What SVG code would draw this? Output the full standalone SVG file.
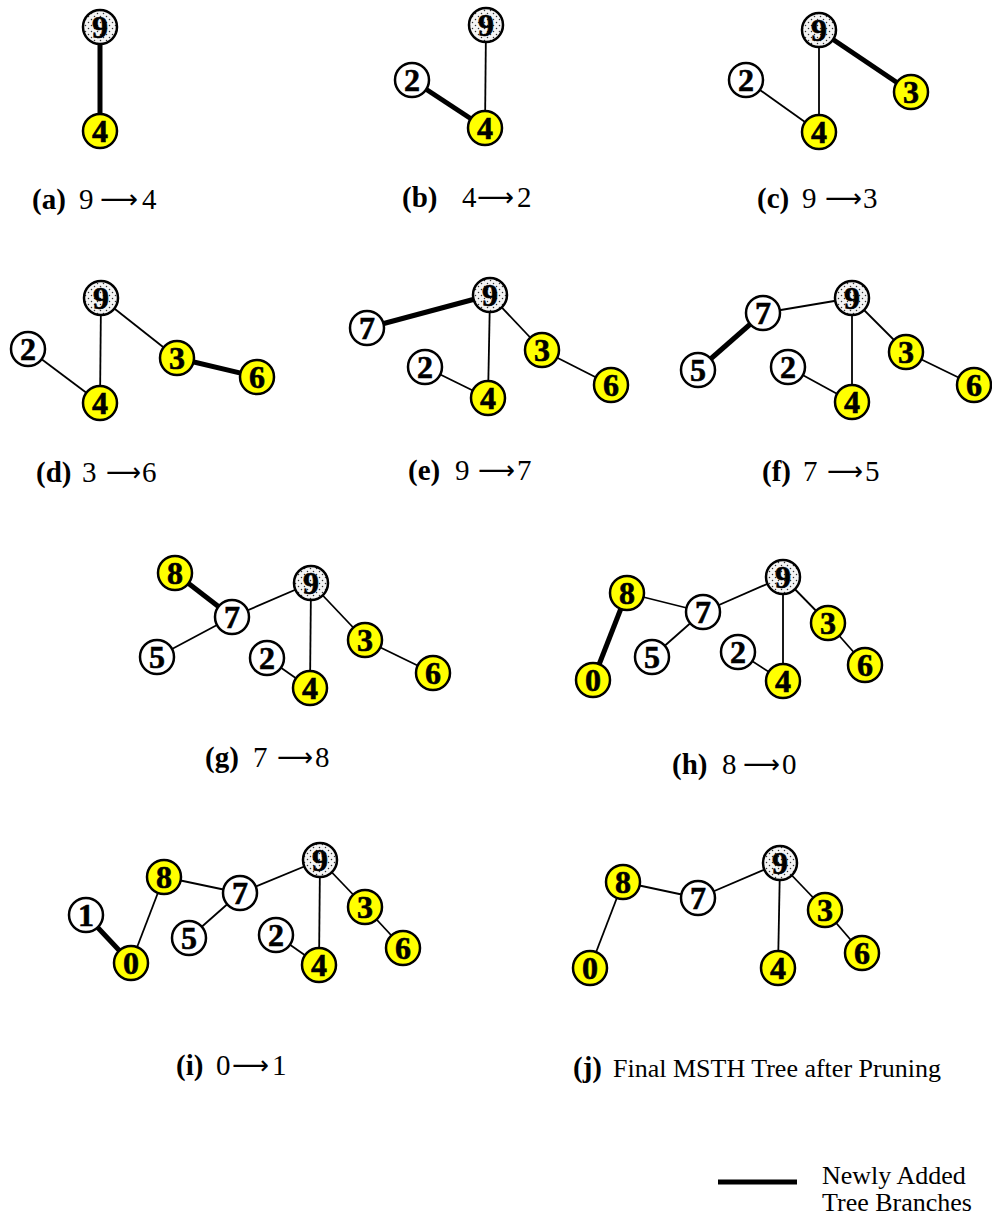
<svg xmlns="http://www.w3.org/2000/svg" width="992" height="1224" viewBox="0 0 992 1224">
<defs>
<pattern id="dots" width="6" height="6" patternUnits="userSpaceOnUse">
<rect width="6" height="6" fill="#f4f4f4"/>
<circle cx="1.5" cy="1.5" r="0.75" fill="#333"/>
<circle cx="4.5" cy="4.5" r="0.75" fill="#333"/>
</pattern>
</defs>
<style>
circle.w{fill:#fff;stroke:#000;stroke-width:2.5}
circle.y{fill:#ffff00;stroke:#000;stroke-width:2.5}
circle.r{fill:url(#dots);stroke:#000;stroke-width:2.5}
text.t{font-family:"Liberation Serif","Times New Roman",serif;font-weight:bold;font-size:32px;text-anchor:middle;fill:#000;stroke:#000;stroke-width:0.6}
line.e{stroke:#000;stroke-width:1.8}
line.E{stroke:#000;stroke-width:5}
text.c{font-family:"Liberation Serif","Times New Roman",serif;font-size:29px;fill:#000}
tspan.b{font-weight:bold}
text.ar{font-family:"DejaVu Sans",sans-serif;font-size:26px;fill:#000}
text.l{font-family:"Liberation Serif","Times New Roman",serif;font-size:26px;fill:#000}
</style>
<rect width="992" height="1224" fill="#fff"/>
<g id="connectors">
<line class="E" x1="100" y1="27" x2="100" y2="131"/>
<line class="e" x1="486" y1="25" x2="485" y2="128"/>
<line class="E" x1="412" y1="80" x2="485" y2="128"/>
<line class="e" x1="819" y1="30" x2="819" y2="132"/>
<line class="e" x1="746" y1="80" x2="819" y2="132"/>
<line class="E" x1="819" y1="30" x2="911" y2="92"/>
<line class="e" x1="101" y1="298" x2="100" y2="403"/>
<line class="e" x1="28" y1="349" x2="100" y2="403"/>
<line class="e" x1="101" y1="298" x2="177" y2="358"/>
<line class="E" x1="177" y1="358" x2="257" y2="377"/>
<line class="e" x1="490" y1="295" x2="488" y2="398"/>
<line class="e" x1="425" y1="367" x2="488" y2="398"/>
<line class="e" x1="490" y1="295" x2="542" y2="350"/>
<line class="e" x1="542" y1="350" x2="611" y2="385"/>
<line class="E" x1="490" y1="295" x2="367" y2="328"/>
<line class="e" x1="852" y1="298" x2="852" y2="402"/>
<line class="e" x1="788" y1="367" x2="852" y2="402"/>
<line class="e" x1="852" y1="298" x2="906" y2="352"/>
<line class="e" x1="906" y1="352" x2="974" y2="385"/>
<line class="e" x1="852" y1="298" x2="763" y2="313"/>
<line class="E" x1="763" y1="313" x2="698" y2="370"/>
<line class="e" x1="311" y1="583" x2="310" y2="688"/>
<line class="e" x1="267" y1="658" x2="310" y2="688"/>
<line class="e" x1="311" y1="583" x2="365" y2="640"/>
<line class="e" x1="365" y1="640" x2="433" y2="673"/>
<line class="e" x1="311" y1="583" x2="232" y2="617"/>
<line class="e" x1="232" y1="617" x2="157" y2="657"/>
<line class="E" x1="232" y1="617" x2="175" y2="573"/>
<line class="e" x1="783" y1="577" x2="783" y2="681"/>
<line class="e" x1="738" y1="652" x2="783" y2="681"/>
<line class="e" x1="783" y1="577" x2="828" y2="623"/>
<line class="e" x1="828" y1="623" x2="865" y2="665"/>
<line class="e" x1="783" y1="577" x2="703" y2="612"/>
<line class="e" x1="703" y1="612" x2="652" y2="657"/>
<line class="e" x1="703" y1="612" x2="627" y2="593"/>
<line class="E" x1="627" y1="593" x2="593" y2="680"/>
<line class="e" x1="320" y1="860" x2="319" y2="965"/>
<line class="e" x1="276" y1="935" x2="319" y2="965"/>
<line class="e" x1="320" y1="860" x2="365" y2="907"/>
<line class="e" x1="365" y1="907" x2="403" y2="948"/>
<line class="e" x1="320" y1="860" x2="240" y2="893"/>
<line class="e" x1="240" y1="893" x2="189" y2="938"/>
<line class="e" x1="240" y1="893" x2="164" y2="877"/>
<line class="e" x1="164" y1="877" x2="131" y2="963"/>
<line class="E" x1="131" y1="963" x2="86" y2="915"/>
<line class="e" x1="780" y1="863" x2="778" y2="968"/>
<line class="e" x1="780" y1="863" x2="825" y2="910"/>
<line class="e" x1="825" y1="910" x2="862" y2="953"/>
<line class="e" x1="780" y1="863" x2="698" y2="898"/>
<line class="e" x1="698" y1="898" x2="623" y2="882"/>
<line class="e" x1="623" y1="882" x2="590" y2="968"/>
</g>

<g id="a-9"><circle class="r" cx="100" cy="27" r="17"/><text class="t" x="100" y="38">9</text></g>
<g id="a-4"><circle class="y" cx="100" cy="131" r="17"/><text class="t" x="100" y="142">4</text></g>
<g id="b-9"><circle class="r" cx="486" cy="25" r="17"/><text class="t" x="486" y="36">9</text></g>
<g id="b-2"><circle class="w" cx="412" cy="80" r="17"/><text class="t" x="412" y="91">2</text></g>
<g id="b-4"><circle class="y" cx="485" cy="128" r="17"/><text class="t" x="485" y="139">4</text></g>
<g id="c-9"><circle class="r" cx="819" cy="30" r="17"/><text class="t" x="819" y="41">9</text></g>
<g id="c-2"><circle class="w" cx="746" cy="80" r="17"/><text class="t" x="746" y="91">2</text></g>
<g id="c-3"><circle class="y" cx="911" cy="92" r="17"/><text class="t" x="911" y="103">3</text></g>
<g id="c-4"><circle class="y" cx="819" cy="132" r="17"/><text class="t" x="819" y="143">4</text></g>
<g id="d-9"><circle class="r" cx="101" cy="298" r="17"/><text class="t" x="101" y="309">9</text></g>
<g id="d-2"><circle class="w" cx="28" cy="349" r="17"/><text class="t" x="28" y="360">2</text></g>
<g id="d-3"><circle class="y" cx="177" cy="358" r="17"/><text class="t" x="177" y="369">3</text></g>
<g id="d-6"><circle class="y" cx="257" cy="377" r="17"/><text class="t" x="257" y="388">6</text></g>
<g id="d-4"><circle class="y" cx="100" cy="403" r="17"/><text class="t" x="100" y="414">4</text></g>
<g id="e-9"><circle class="r" cx="490" cy="295" r="17"/><text class="t" x="490" y="306">9</text></g>
<g id="e-7"><circle class="w" cx="367" cy="328" r="17"/><text class="t" x="367" y="339">7</text></g>
<g id="e-2"><circle class="w" cx="425" cy="367" r="17"/><text class="t" x="425" y="378">2</text></g>
<g id="e-3"><circle class="y" cx="542" cy="350" r="17"/><text class="t" x="542" y="361">3</text></g>
<g id="e-6"><circle class="y" cx="611" cy="385" r="17"/><text class="t" x="611" y="396">6</text></g>
<g id="e-4"><circle class="y" cx="488" cy="398" r="17"/><text class="t" x="488" y="409">4</text></g>
<g id="f-9"><circle class="r" cx="852" cy="298" r="17"/><text class="t" x="852" y="309">9</text></g>
<g id="f-7"><circle class="w" cx="763" cy="313" r="17"/><text class="t" x="763" y="324">7</text></g>
<g id="f-5"><circle class="w" cx="698" cy="370" r="17"/><text class="t" x="698" y="381">5</text></g>
<g id="f-2"><circle class="w" cx="788" cy="367" r="17"/><text class="t" x="788" y="378">2</text></g>
<g id="f-3"><circle class="y" cx="906" cy="352" r="17"/><text class="t" x="906" y="363">3</text></g>
<g id="f-6"><circle class="y" cx="974" cy="385" r="17"/><text class="t" x="974" y="396">6</text></g>
<g id="f-4"><circle class="y" cx="852" cy="402" r="17"/><text class="t" x="852" y="413">4</text></g>
<g id="g-8"><circle class="y" cx="175" cy="573" r="17"/><text class="t" x="175" y="584">8</text></g>
<g id="g-7"><circle class="w" cx="232" cy="617" r="17"/><text class="t" x="232" y="628">7</text></g>
<g id="g-9"><circle class="r" cx="311" cy="583" r="17"/><text class="t" x="311" y="594">9</text></g>
<g id="g-5"><circle class="w" cx="157" cy="657" r="17"/><text class="t" x="157" y="668">5</text></g>
<g id="g-2"><circle class="w" cx="267" cy="658" r="17"/><text class="t" x="267" y="669">2</text></g>
<g id="g-3"><circle class="y" cx="365" cy="640" r="17"/><text class="t" x="365" y="651">3</text></g>
<g id="g-6"><circle class="y" cx="433" cy="673" r="17"/><text class="t" x="433" y="684">6</text></g>
<g id="g-4"><circle class="y" cx="310" cy="688" r="17"/><text class="t" x="310" y="699">4</text></g>
<g id="h-8"><circle class="y" cx="627" cy="593" r="17"/><text class="t" x="627" y="604">8</text></g>
<g id="h-7"><circle class="w" cx="703" cy="612" r="17"/><text class="t" x="703" y="623">7</text></g>
<g id="h-9"><circle class="r" cx="783" cy="577" r="17"/><text class="t" x="783" y="588">9</text></g>
<g id="h-5"><circle class="w" cx="652" cy="657" r="17"/><text class="t" x="652" y="668">5</text></g>
<g id="h-2"><circle class="w" cx="738" cy="652" r="17"/><text class="t" x="738" y="663">2</text></g>
<g id="h-3"><circle class="y" cx="828" cy="623" r="17"/><text class="t" x="828" y="634">3</text></g>
<g id="h-6"><circle class="y" cx="865" cy="665" r="17"/><text class="t" x="865" y="676">6</text></g>
<g id="h-4"><circle class="y" cx="783" cy="681" r="17"/><text class="t" x="783" y="692">4</text></g>
<g id="h-0"><circle class="y" cx="593" cy="680" r="17"/><text class="t" x="593" y="691">0</text></g>
<g id="i-1"><circle class="w" cx="86" cy="915" r="17"/><text class="t" x="86" y="926">1</text></g>
<g id="i-8"><circle class="y" cx="164" cy="877" r="17"/><text class="t" x="164" y="888">8</text></g>
<g id="i-7"><circle class="w" cx="240" cy="893" r="17"/><text class="t" x="240" y="904">7</text></g>
<g id="i-9"><circle class="r" cx="320" cy="860" r="17"/><text class="t" x="320" y="871">9</text></g>
<g id="i-5"><circle class="w" cx="189" cy="938" r="17"/><text class="t" x="189" y="949">5</text></g>
<g id="i-2"><circle class="w" cx="276" cy="935" r="17"/><text class="t" x="276" y="946">2</text></g>
<g id="i-3"><circle class="y" cx="365" cy="907" r="17"/><text class="t" x="365" y="918">3</text></g>
<g id="i-6"><circle class="y" cx="403" cy="948" r="17"/><text class="t" x="403" y="959">6</text></g>
<g id="i-4"><circle class="y" cx="319" cy="965" r="17"/><text class="t" x="319" y="976">4</text></g>
<g id="i-0"><circle class="y" cx="131" cy="963" r="17"/><text class="t" x="131" y="974">0</text></g>
<g id="j-8"><circle class="y" cx="623" cy="882" r="17"/><text class="t" x="623" y="893">8</text></g>
<g id="j-7"><circle class="w" cx="698" cy="898" r="17"/><text class="t" x="698" y="909">7</text></g>
<g id="j-9"><circle class="r" cx="780" cy="863" r="17"/><text class="t" x="780" y="874">9</text></g>
<g id="j-3"><circle class="y" cx="825" cy="910" r="17"/><text class="t" x="825" y="921">3</text></g>
<g id="j-6"><circle class="y" cx="862" cy="953" r="17"/><text class="t" x="862" y="964">6</text></g>
<g id="j-4"><circle class="y" cx="778" cy="968" r="17"/><text class="t" x="778" y="979">4</text></g>
<g id="j-0"><circle class="y" cx="590" cy="968" r="17"/><text class="t" x="590" y="979">0</text></g>

<g id="captions">
<text class="c" x="32" y="209"><tspan class="b">(a)</tspan><tspan x="79">9</tspan><tspan x="142">4</tspan></text>
<text class="ar" x="100" y="208" textLength="38" lengthAdjust="spacingAndGlyphs">⟶</text>
<text class="c" x="402" y="207"><tspan class="b">(b)</tspan><tspan x="462">4</tspan><tspan x="517">2</tspan></text>
<text class="ar" x="477" y="206" textLength="37" lengthAdjust="spacingAndGlyphs">⟶</text>
<text class="c" x="757" y="208"><tspan class="b">(c)</tspan><tspan x="802">9</tspan><tspan x="863">3</tspan></text>
<text class="ar" x="825" y="207" textLength="37" lengthAdjust="spacingAndGlyphs">⟶</text>
<text class="c" x="36" y="482"><tspan class="b">(d)</tspan><tspan x="82">3</tspan><tspan x="142">6</tspan></text>
<text class="ar" x="106" y="481" textLength="35" lengthAdjust="spacingAndGlyphs">⟶</text>
<text class="c" x="408" y="480"><tspan class="b">(e)</tspan><tspan x="455">9</tspan><tspan x="517">7</tspan></text>
<text class="ar" x="478" y="479" textLength="37" lengthAdjust="spacingAndGlyphs">⟶</text>
<text class="c" x="762" y="481"><tspan class="b">(f)</tspan><tspan x="803">7</tspan><tspan x="865">5</tspan></text>
<text class="ar" x="827" y="480" textLength="36" lengthAdjust="spacingAndGlyphs">⟶</text>
<text class="c" x="205" y="767"><tspan class="b">(g)</tspan><tspan x="253">7</tspan><tspan x="315">8</tspan></text>
<text class="ar" x="277" y="766" textLength="36" lengthAdjust="spacingAndGlyphs">⟶</text>
<text class="c" x="672" y="774"><tspan class="b">(h)</tspan><tspan x="722">8</tspan><tspan x="782">0</tspan></text>
<text class="ar" x="743" y="773" textLength="37" lengthAdjust="spacingAndGlyphs">⟶</text>
<text class="c" x="176" y="1075"><tspan class="b">(i)</tspan><tspan x="216">0</tspan><tspan x="272">1</tspan></text>
<text class="ar" x="232" y="1074" textLength="37" lengthAdjust="spacingAndGlyphs">⟶</text>
<text class="c" x="573" y="1077"><tspan class="b">(j)</tspan><tspan x="613" font-size="26">Final MSTH Tree after Pruning</tspan></text>
</g>
<g id="legend">
<line class="E" x1="718" y1="1182" x2="797" y2="1182"/>
<text class="l" x="822" y="1184">Newly Added</text>
<text class="l" x="822" y="1211">Tree Branches</text>
</g>
</svg>
